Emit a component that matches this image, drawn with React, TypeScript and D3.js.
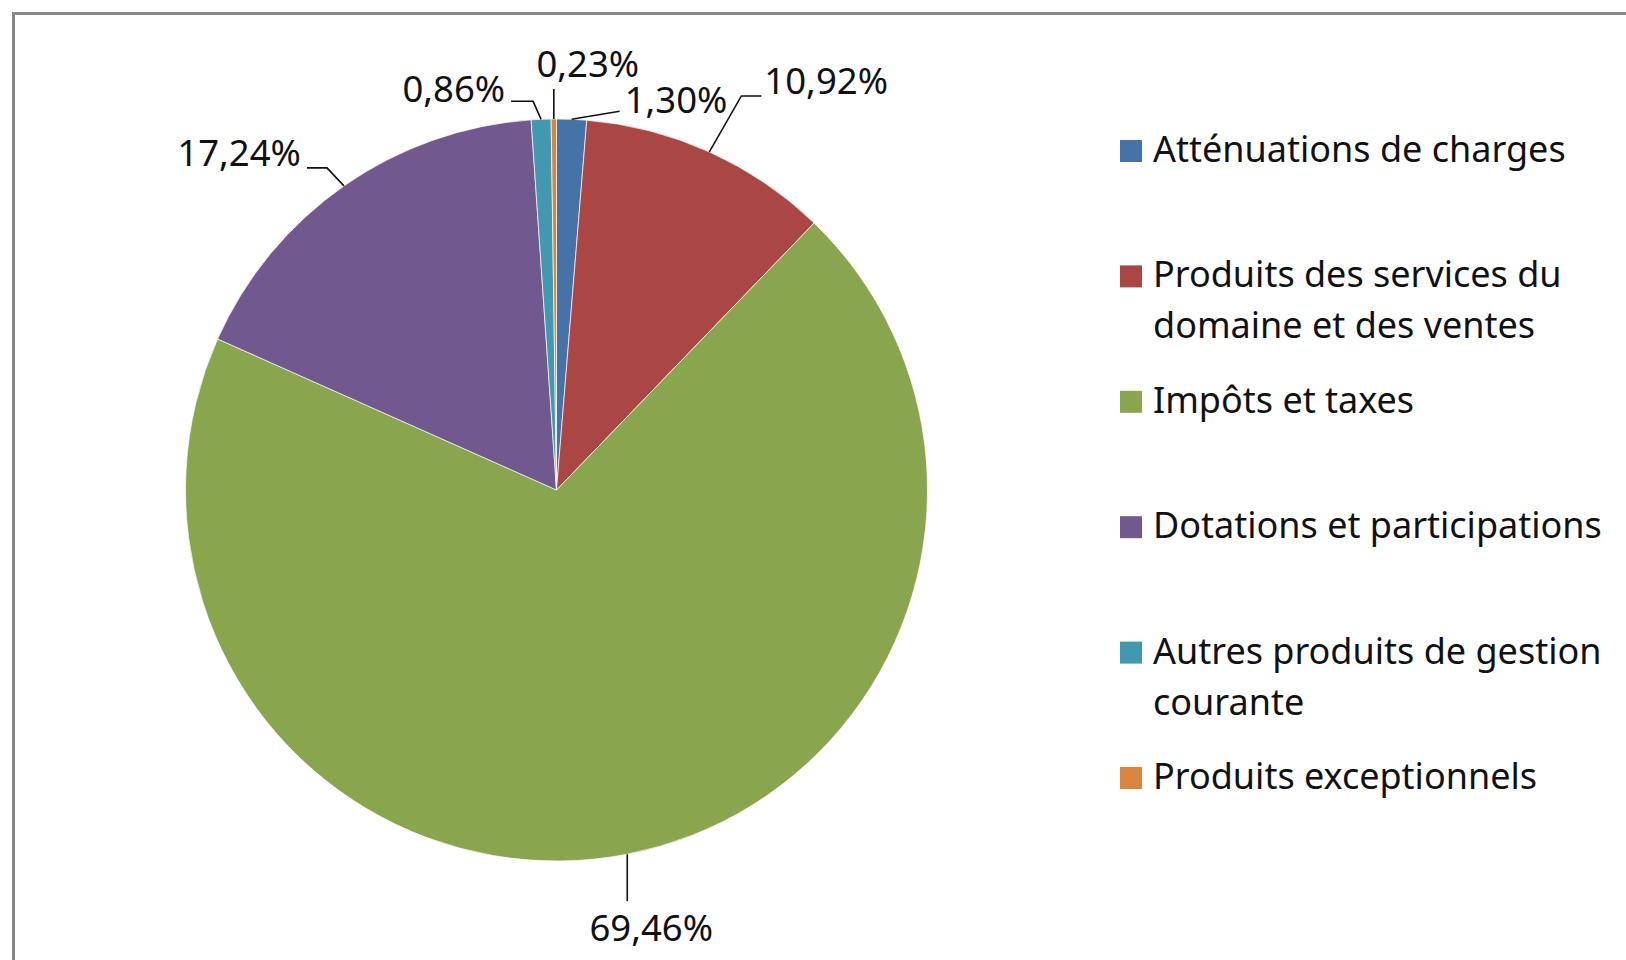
import { useEffect, useRef } from "react";
import * as d3 from "d3";

// chart data
const categories = [
  "Atténuations de charges",
  "Produits des services du domaine et des ventes",
  "Impôts et taxes",
  "Dotations et participations",
  "Autres produits de gestion courante",
  "Produits exceptionnels",
];
const shares = [1.3, 10.92, 69.46, 17.24, 0.86, 0.23];
const shareLabels = ["1,30%", "10,92%", "69,46%", "17,24%", "0,86%", "0,23%"];
const legendLines = [
  ["Atténuations de charges"],
  ["Produits des services du", "domaine et des ventes"],
  ["Impôts et taxes"],
  ["Dotations et participations"],
  ["Autres produits de gestion", "courante"],
  ["Produits exceptionnels"],
];
const colors = ["#4572A7", "#AA4643", "#89A54E", "#71588F", "#4198AF", "#DB843D"];

// label placement: leader bends, relative to the point on the pie edge
const labelLayout = [
  { bend: [[48, -8]], tx: 53, ty: -6, anchor: "start" },
  { bend: [[32, -56], [52, -56]], tx: 55, ty: -58, anchor: "start" },
  { bend: [[0, 47]], tx: 24, ty: 87, anchor: "middle" },
  { bend: [[-17, -18], [-37, -18]], tx: -43, ty: -20, anchor: "end" },
  { bend: [[-8, -18], [-30, -18]], tx: -36, ty: -17, anchor: "end" },
  { bend: [[0, -30]], tx: 34, ty: -42, anchor: "middle" },
];

const FONT = "'Noto Sans', sans-serif";

export default function App() {
  const ref = useRef<SVGSVGElement>(null);

  useEffect(() => {
    if (!ref.current) return;
    const W = 1626;
    const H = 960;
    const svg = d3.select(ref.current);
    svg.selectAll("*").remove();
    svg.attr("width", W).attr("height", H);

    svg.append("rect").attr("width", W).attr("height", H).attr("fill", "#fff");

    // frame (only left and top edges visible)
    svg
      .append("rect")
      .attr("x", 13.5)
      .attr("y", 13.5)
      .attr("width", W + 20)
      .attr("height", H + 20)
      .attr("fill", "none")
      .attr("stroke", "#878787")
      .attr("stroke-width", 3);

    const cx = 556.5;
    const cy = 490;
    const r = 371;

    const pie = d3
      .pie<number>()
      .sort(null)
      .value((d) => d);
    const arcs = pie(shares);
    const arc = d3.arc<d3.PieArcDatum<number>>().innerRadius(0).outerRadius(r);

    const g = svg.append("g").attr("transform", `translate(${cx},${cy})`);

    g.selectAll("path")
      .data(arcs)
      .enter()
      .append("path")
      .attr("d", arc)
      .attr("fill", (_, i) => colors[i])
      .attr("stroke", "#fff")
      .attr("stroke-width", 0.7);

    // data labels with leader lines
    arcs.forEach((a, i) => {
      const mid = (a.startAngle + a.endAngle) / 2;
      const sx = Math.sin(mid) * r;
      const sy = -Math.cos(mid) * r;
      const lay = labelLayout[i];
      const pts: [number, number][] = [[sx, sy]];
      lay.bend.forEach((b) => pts.push([sx + b[0], sy + b[1]]));
      g.append("path")
        .attr("d", d3.line()(pts))
        .attr("fill", "none")
        .attr("stroke", "#111")
        .attr("stroke-width", 1.6);
      g.append("text")
        .attr("x", sx + lay.tx)
        .attr("y", sy + lay.ty)
        .attr("text-anchor", lay.anchor)
        .style("font-family", FONT)
        .style("font-size", "36.5px")
        .style("fill", "#111")
        .text(shareLabels[i]);
    });

    // legend
    const legend = svg.append("g").attr("transform", "translate(1120,162)");
    const step = 125.4;
    categories.forEach((c, i) => {
      const row = legend.append("g").attr("transform", `translate(0,${i * step})`);
      row
        .append("rect")
        .attr("x", 0)
        .attr("y", -22)
        .attr("width", 22)
        .attr("height", 22)
        .attr("fill", colors[i]);
      const t = row
        .append("text")
        .attr("x", 33)
        .attr("y", 0)
        .style("font-family", FONT)
        .style("font-size", "36px")
        .style("fill", "#111");
      t.append("title").text(c);
      legendLines[i].forEach((ln, j) => {
        t.append("tspan").attr("x", 33).attr("y", j * 51).text(ln);
      });
    });
  }, []);

  return (
    <svg
      ref={ref}
      style={{ position: "absolute", left: 0, top: 0, display: "block" }}
    />
  );
}
